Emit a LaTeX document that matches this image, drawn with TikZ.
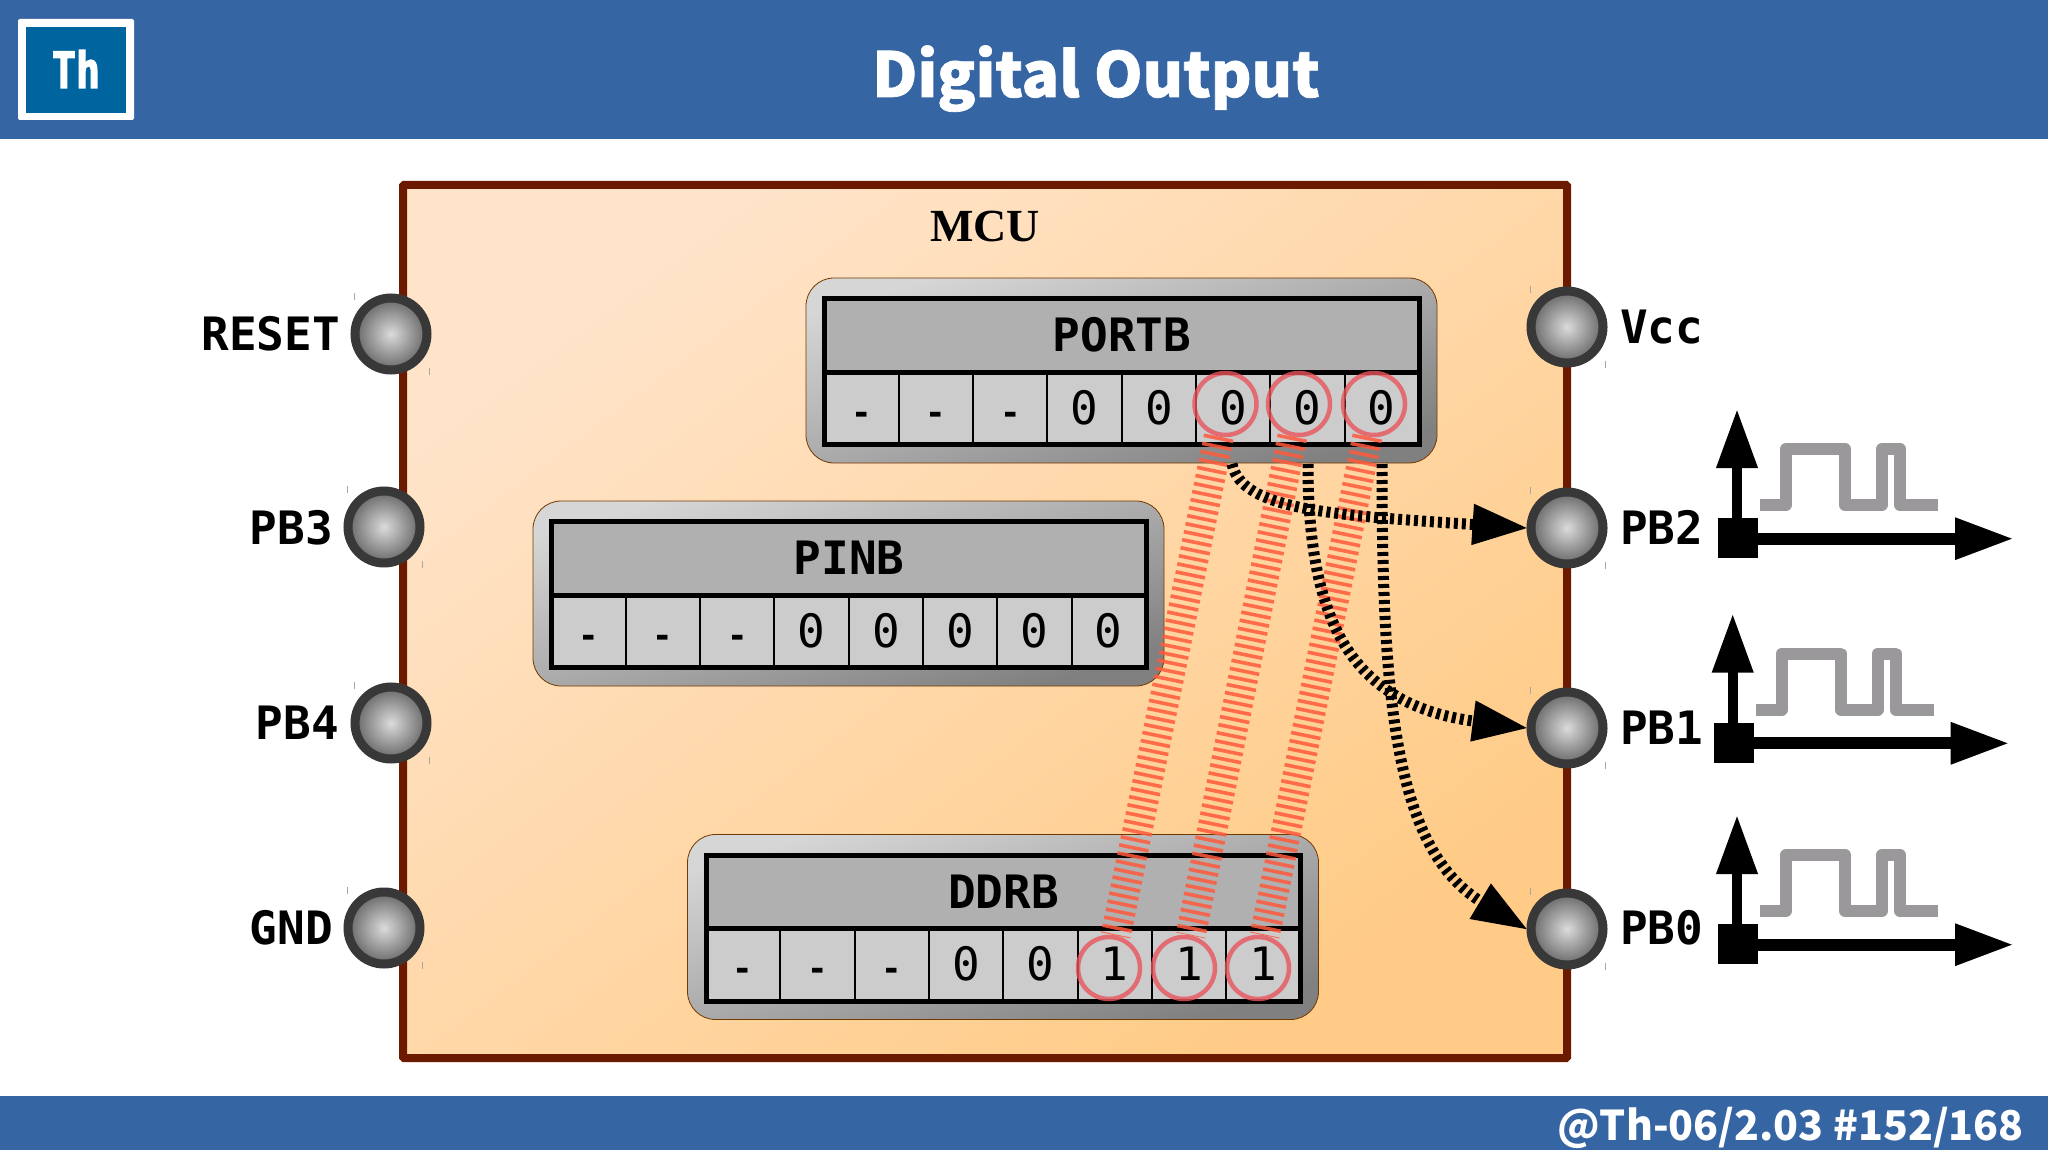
\documentclass[tikz,border=0pt]{standalone}
\usepackage{fontspec}
\setmainfont{Noto Sans CJK SC}
\setmonofont{DejaVu Sans Mono}
\newfontfamily\headfont[FakeBold=1.2]{Noto Sans CJK SC}
\newfontfamily\serifbold{Liberation Serif}
\newfontfamily\logofont[FakeStretch=0.8,FakeBold=2.5]{DejaVu Sans Mono}
\usetikzlibrary{arrows.meta}

\definecolor{barblue}{HTML}{3565A3}
\definecolor{logoblue}{HTML}{00659F}
\definecolor{mcuedge}{HTML}{6B1A00}
\definecolor{mcutop}{HTML}{FFE4CA}
\definecolor{mcubottom}{HTML}{FFCB86}
\definecolor{wavegray}{HTML}{9A989A}
\definecolor{hatchred}{HTML}{FF5A3C}
\definecolor{ringred}{HTML}{E8545C}
\newcommand{\nobit}{\fontsize{34}{34}\selectfont\bfseries -}

\tikzset{
  regtext/.style = {font = \ttfamily\bfseries\fontsize{46}{46}\selectfont, text = black},
  cellhead/.style = {draw = black, line width = 5pt, fill = black!31!white},
  celltext/.style = {font = \ttfamily\fontsize{46}{46}\selectfont, text = black, anchor = base},
  pinlabel/.style = {font = \ttfamily\bfseries\fontsize{46}{46}\selectfont, inner sep = 0},
  pinball/.style = {circle, draw = black!78!white, line width = 9pt, minimum size = 72pt,
    inner sep = 0, inner color = black!14!white, outer color = black!60!white},
  ring/.style = {circle, draw = ringred, draw opacity = 0.8, line width = 4.5pt,
    minimum size = 62pt, inner sep = 0},
  hatch/.style = {draw = hatchred, draw opacity = 0.85, line width = 30pt,
    dash pattern = on 3.6pt off 4.6pt},
  wire/.style = {draw = black, line width = 11pt, dash pattern = on 4pt off 4pt,
    shorten > = -2pt, -{Triangle[length = 56pt, width = 38pt]}},
  wave/.style = {draw = wavegray, line width = 12pt, line join = round},
}

\begin{document}
\begin{tikzpicture}[x = 1pt, y = -1pt]
  \useasboundingbox (0, 0) rectangle (2048, 1150);
  \fill[white] (0, 0) rectangle (2048, 1150);

  % bars and logo
  \fill[barblue] (0, 0) rectangle (2048, 139);
  \fill[barblue] (0, 1096) rectangle (2048, 1150);
  \fill[white, rounded corners = 2pt] (18, 19) rectangle (134, 120);
  \fill[logoblue] (26, 27) rectangle (126, 113);
  \node[font = \logofont\bfseries\fontsize{50}{50}\selectfont, text = white, inner sep = 0, anchor = base] (logo) at (76, 88) {Th};
  \node[font = \headfont\bfseries\fontsize{62}{62}\selectfont, text = white, inner sep = 0, anchor = base] (title) at (1096, 97) {Digital Output};
  \node[font = \bfseries\fontsize{41}{41}\selectfont, text = white, inner sep = 0, anchor = base east] (footer) at (2024, 1140) {@Th-06/2.03 \#152/168};

  % mcu box
  \shade[top color = mcutop, bottom color = mcubottom, shading angle = 37]
    (403, 185) rectangle (1567, 1058);
  \draw[mcuedge, line width = 8pt, rounded corners = 1pt] (403, 185) rectangle (1567, 1058);
  \node[font = \serifbold\bfseries\fontsize{46}{46}\selectfont, inner sep = 0, anchor = base] (mcu) at (985, 242) {MCU};

  % pins
  \foreach \name/\x/\y in {reset/391/334, pbthree/384/527, pbfour/391/723, gnd/384/928,
    vcc/1567/327, pbtwo/1567/528, pbone/1567/728, pbzero/1567/929} {
    \node[pinball] (\name) at (\x, \y) {};
    \draw[black!35!white, line width = 1pt] (\x - 37, \y - 41) -- (\x - 37, \y - 34);
    \draw[black!35!white, line width = 1pt] (\x + 38, \y + 34) -- (\x + 38, \y + 41);
  }
  \node[pinlabel, anchor = base east] (lreset) at (340, 350) {RESET};
  \node[pinlabel, anchor = base east] (lpbthree) at (333, 544) {PB3};
  \node[pinlabel, anchor = base east] (lpbfour) at (339, 739) {PB4};
  \node[pinlabel, anchor = base east] (lgnd) at (333, 944) {GND};
  \node[pinlabel, anchor = base west] (lvcc) at (1620, 343) {Vcc};
  \node[pinlabel, anchor = base west] (lpbtwo) at (1620, 544) {PB2};
  \node[pinlabel, anchor = base west] (lpbone) at (1620, 744) {PB1};
  \node[pinlabel, anchor = base west] (lpbzero) at (1620, 944) {PB0};

  % registers
  \foreach \reg/\dx/\dy/\bits in {PORTB/0/0/{\nobit,\nobit,\nobit,0,0,0,0,0},
    PINB/-273/223/{\nobit,\nobit,\nobit,0,0,0,0,0},
    DDRB/-118.5/556.5/{\nobit,\nobit,\nobit,0,0,1,1,1}} {
    \begin{scope}[shift = {(\dx, \dy)}]
      \shade[top color = black!16!white, bottom color = black!50!white, shading angle = 16,
        rounded corners = 28pt, draw = black!55!orange, line width = 0.8pt]
        (806, 278) rectangle (1437, 463);
      \draw[cellhead] (824.5, 298.5) rectangle (1419, 372);
      \fill[black!20!white] (824.5, 372) rectangle (1419, 444.5);
      \draw[black, line width = 5pt] (824.5, 372) rectangle (1419, 444.5);
      \foreach \i in {1, ..., 7}
        \draw[black, line width = 2pt] ({824.5 + \i * 74.3}, 372) -- ({824.5 + \i * 74.3}, 444.5);
      \node[regtext, inner sep = 0] (\reg) at (1122, 335) {\reg};
      \foreach \b [count = \i] in \bits
        \node[celltext, inner sep = 0] (\reg\i) at ({824.5 + (\i - 0.5) * 74.3}, 424) {\b};
    \end{scope}
  }

  % set bits
  \foreach \i/\x in {6/1225.5, 7/1299, 8/1374}
    \node[ring] (p\i) at (\x, 404) {};
  \foreach \i/\x in {6/1109, 7/1184, 8/1258}
    \node[ring] (d\i) at (\x, 968) {};
  \foreach \i in {6, 7, 8}
    \draw[hatch] (p\i) -- (d\i);

  % wires
  \coordinate (wone) at (1232, 464);
  \coordinate (wtwo) at (1308, 464);
  \coordinate (wthree) at (1382, 464);
  \draw[wire] (wone) .. controls (1242, 510) and (1330, 515) .. (pbtwo.west);
  \draw[wire] (wtwo) .. controls (1308, 620) and (1350, 705) .. (pbone.west);
  \draw[wire] (wthree) .. controls (1382, 700) and (1395, 850) .. (pbzero.west);

  % signal icons
  \foreach \name/\dx/\dy in {itwo/0/0, ione/-4.3/204.6, izero/0/406} {
    \begin{scope}[shift = {(\dx, \dy)}]
      \fill[black] (1718, 518) rectangle (1758, 558);
      \draw[line width = 10pt, -{Triangle[length = 59pt, width = 39pt]}] (1737, 518) -- (1737, 409);
      \draw[line width = 12pt, -{Triangle[length = 59pt, width = 39pt]}] (1758, 538.7) -- (2014, 538.7);
      \draw[wave] (1760, 505) -- (1786, 505) -- (1786, 449) -- (1845, 449) -- (1845, 505)
        -- (1882, 505) -- (1882, 449) -- (1900, 449) -- (1900, 505) -- (1938, 505);
    \end{scope}
  }
\end{tikzpicture}
\end{document}
